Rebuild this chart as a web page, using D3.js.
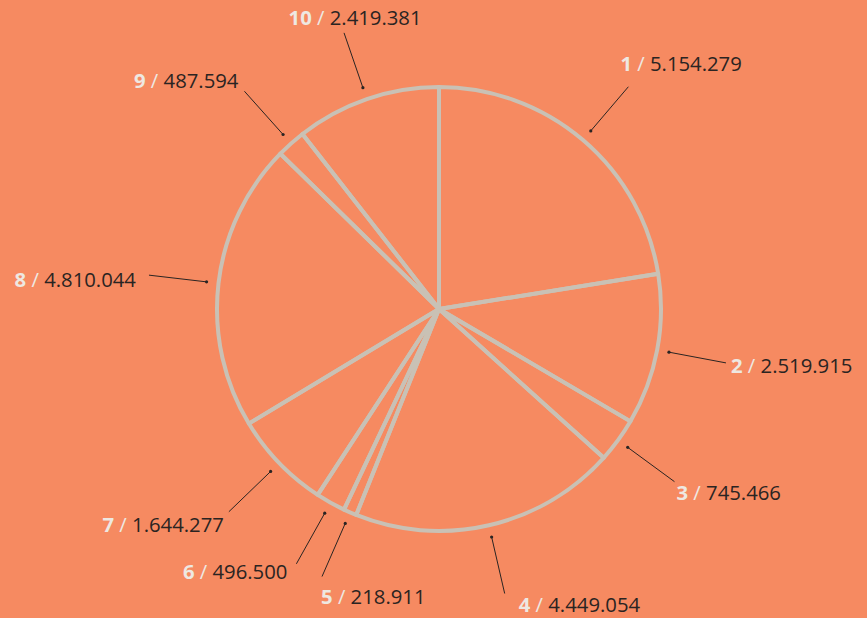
<!DOCTYPE html>
<meta charset="utf-8">
<style>
body { margin: 0; background: #f68a61; }
.slice { fill: none; stroke: #c9c1b5; stroke-width: 4px; stroke-linejoin: round; }
.leader { stroke: #2a2422; stroke-width: 1px; }
.dot { fill: #2a2422; }
.label { font-family: "Open Sans", sans-serif; font-size: 20.3px; }
.label .num { fill: #eee8e2; font-weight: bold; }
.label .slash { fill: #eee8e2; }
.label .val { fill: #2a2422; }
</style>
<body>
<script src="https://d3js.org/d3.v7.min.js"></script>
<script>
// data
const ids = ["1", "2", "3", "4", "5", "6", "7", "8", "9", "10"];
const values = [5154279, 2519915, 745466, 4449054, 218911, 496500, 1644277, 4810044, 487594, 2419381];
const valueLabels = ["5.154.279", "2.519.915", "745.466", "4.449.054", "218.911", "496.500", "1.644.277", "4.810.044", "487.594", "2.419.381"];

// label placement relative to the end of each leader line
const labelAnchor = ["start", "start", "start", "start", "start", "end", "end", "end", "end", "middle"];
const labelDx = [-8, 5, 2, 14, -1, -9, -5, -13, -6, 11];
const labelDy = [-16, 10, 18, 18, 27, 15, 20, 12, -3, -8];

const width = 867, height = 618;
const cx = 439, cy = 309, radius = 222;

const svg = d3.select("body").append("svg")
  .attr("width", width)
  .attr("height", height);

const g = svg.append("g").attr("transform", "translate(" + cx + "," + cy + ")");

const pie = d3.pie().sort(null).value(function (d) { return d; });
const arcs = pie(values);

const arc = d3.arc().innerRadius(0).outerRadius(radius);

g.selectAll(".slice")
  .data(arcs)
  .enter().append("path")
  .attr("class", "slice")
  .attr("d", arc);

// leader lines
const dotArc = d3.arc().innerRadius(234).outerRadius(234);
const endArc = d3.arc().innerRadius(292).outerRadius(292);

g.selectAll(".leader")
  .data(arcs)
  .enter().append("line")
  .attr("class", "leader")
  .attr("x1", function (d) { return dotArc.centroid(d)[0]; })
  .attr("y1", function (d) { return dotArc.centroid(d)[1]; })
  .attr("x2", function (d) { return endArc.centroid(d)[0]; })
  .attr("y2", function (d) { return endArc.centroid(d)[1]; });

g.selectAll(".dot")
  .data(arcs)
  .enter().append("circle")
  .attr("class", "dot")
  .attr("r", 1.6)
  .attr("cx", function (d) { return dotArc.centroid(d)[0]; })
  .attr("cy", function (d) { return dotArc.centroid(d)[1]; });

// labels
const labels = g.selectAll(".label")
  .data(arcs)
  .enter().append("text")
  .attr("class", "label")
  .attr("text-anchor", function (d, i) { return labelAnchor[i]; })
  .attr("x", function (d, i) { return endArc.centroid(d)[0] + labelDx[i]; })
  .attr("y", function (d, i) { return endArc.centroid(d)[1] + labelDy[i]; });

labels.append("tspan").attr("class", "num").text(function (d, i) { return ids[i]; });
labels.append("tspan").attr("class", "slash").text(" / ");
labels.append("tspan").attr("class", "val").text(function (d, i) { return valueLabels[i]; });
</script>
</body>
